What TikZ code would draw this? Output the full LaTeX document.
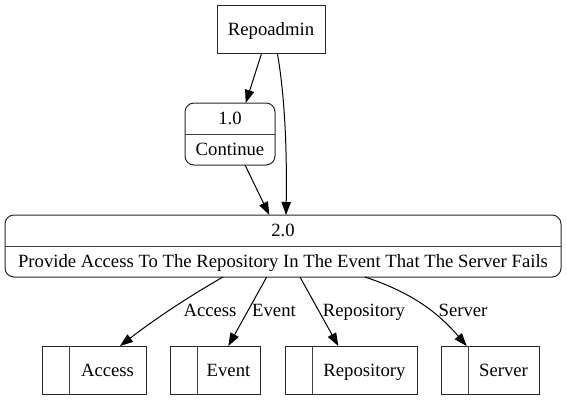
\documentclass[tikz,border=0pt]{standalone}
\usepackage{fontspec}
\setmainfont{Liberation Serif}
\usetikzlibrary{arrows.meta}
\begin{document}
\begin{tikzpicture}[x=1pt,y=-1pt,
  every node/.style={font=\fontsize{18.7}{21}\selectfont, inner sep=0pt, outer sep=0pt, text height=12.5pt, text depth=0pt},
  box/.style={draw=black!85, line width=1pt},
  entbox/.style={box, rectangle, minimum width=108pt, minimum height=48pt},
  procbox/.style={box, rectangle, rounded corners=9pt},
  storebox/.style={box, rectangle, minimum height=48pt},
  divider/.style={draw=black!75, line width=1pt},
  edge/.style={draw=black, line width=1pt, -{Triangle[length=13pt,width=9.3pt]}},
  lbl/.style={}
]
\useasboundingbox (0,0) rectangle (567,400);
% entity
\node[entbox] (r) at (271,29) {};
\node (rt) at (271,29) {Repoadmin};
% process 1.0
\node[procbox, minimum width=90pt, minimum height=62pt] (p1) at (230,134) {};
\node (p1a) at (230,118.5) {1.0};
\node (p1b) at (230,149) {Continue};
\draw[divider] (p1.west) -- (p1.east);
% process 2.0
\node[procbox, minimum width=556pt, minimum height=62pt] (p2) at (283,246) {};
\node (p2a) at (283,230.5) {2.0};
\node (p2b) at (283,261) {Provide Access To The Repository In The Event That The Server Fails};
\draw[divider] (p2.west) -- (p2.east);
% stores
\node[storebox, minimum width=104pt] (sa) at (94,370) {};
\node[storebox, minimum width=90pt] (se) at (215,370) {};
\node[storebox, minimum width=132pt] (sr) at (351,370) {};
\node[storebox, minimum width=98pt] (sv) at (490,370) {};
\foreach \s in {sa,se,sr,sv}{
  \draw[divider] ([xshift=27pt]\s.north west) -- ([xshift=27pt]\s.south west);
}
\node (ta) at (107.5,370) {Access};
\node (te) at (228.5,370) {Event};
\node (tr) at (364.5,370) {Repository};
\node (tv) at (503.5,370) {Server};
% edges
\draw[edge] ([xshift=-9.3pt]r.south) -- ([xshift=15.7pt]p1.north);
\draw[edge] ([xshift=6.3pt]r.south) .. controls +(8,45) and +(1,-60) .. ([xshift=3pt]p2.north);
\draw[edge] ([xshift=15pt]p1.south) -- ([xshift=-13.7pt]p2.north);
\draw[edge] ([xshift=-60pt]p2.south) .. controls +(-35,20) and +(35,-27) .. ([xshift=26pt]sa.north);
\draw[edge] ([xshift=-16.3pt]p2.south) -- ([xshift=13.3pt]se.north);
\draw[edge] ([xshift=17pt]p2.south) -- ([xshift=-12.7pt]sr.north);
\draw[edge] ([xshift=82pt]p2.south) .. controls +(45,15) and +(-30,-35) .. ([xshift=-23.3pt]sv.north);
% edge labels
\node[lbl] (la) at (210,310) {Access};
\node[lbl] (le) at (274,310) {Event};
\node[lbl] (lr) at (364,310) {Repository};
\node[lbl] (lv) at (463,310) {Server};
\end{tikzpicture}
\end{document}
